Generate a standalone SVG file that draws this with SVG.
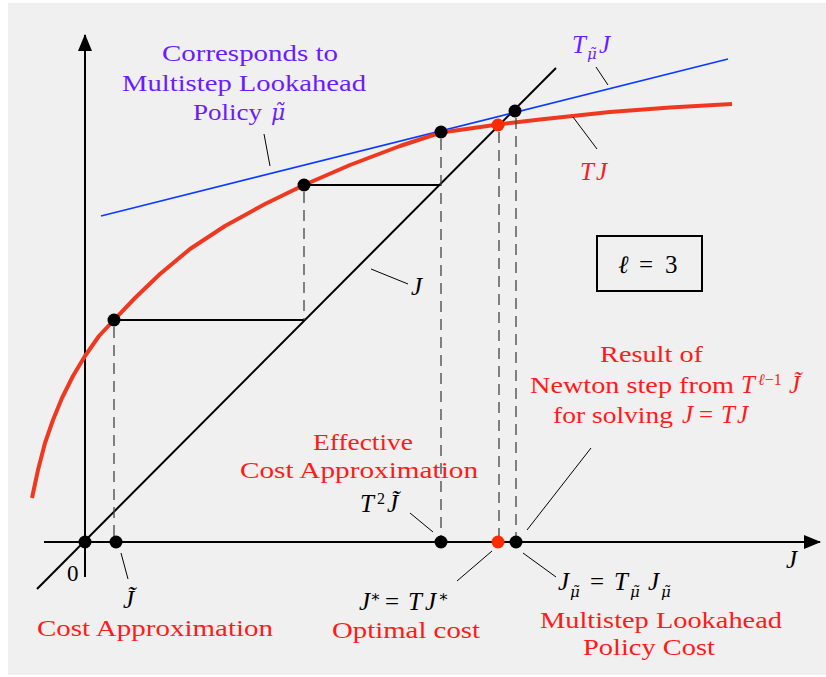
<svg xmlns="http://www.w3.org/2000/svg" width="826" height="677" viewBox="0 0 826 677">
<defs>
<style>
.bg{fill:#f0f0f0}
.ax{stroke:#000;stroke-width:2;fill:none}
.thin{stroke:#000;stroke-width:1;fill:none}
.dash{stroke:#444;stroke-width:1.3;stroke-dasharray:11 7;fill:none}
.t{font-family:"Liberation Serif","DejaVu Serif",serif;font-size:23px}
.m{font-family:"Liberation Serif","DejaVu Serif",serif;font-size:25px;font-style:italic}
.s{font-family:"Liberation Serif","DejaVu Serif",serif;font-size:16px;font-style:italic}
.mu{font-family:"DejaVu Serif",serif;font-style:italic}
.up{font-style:normal}
.red{fill:#ff1a1a}
.pur{fill:#6a1cff}
.blk{fill:#000}
.dot{fill:#000}
.rdot{fill:#ff2a00}
</style>
<marker id="arr" viewBox="0 0 17 14" refX="16" refY="7" markerWidth="17" markerHeight="14" markerUnits="userSpaceOnUse" orient="auto">
<path d="M0,0 L17,7 L0,14 Z" fill="#000"/>
</marker>
</defs>
<rect class="bg" x="8" y="3" width="818" height="672"/>

<g id="axes">
<line class="ax" x1="44" y1="542" x2="820" y2="542" marker-end="url(#arr)"/>
<line class="ax" x1="85" y1="577" x2="85" y2="35" marker-end="url(#arr)"/>
<line class="ax" x1="37" y1="589" x2="556" y2="68"/>
</g>

<g id="curves">
<line x1="101" y1="216" x2="728" y2="59" stroke="#0a3cff" stroke-width="1.8"/>
<polyline points="32,498 38,470 45,443 53,420 62,398 73,376 85,356 99,336 114,320 135,298 160,274 190,249 225,226 265,204 304,185 350,165 400,146 441,132.5 470,128.5 498,124.5 540,119.5 610,112 670,107.5 732,104" fill="none" stroke="#ef3820" stroke-width="4" stroke-linejoin="round"/>
</g>

<g id="connectors">
<line class="ax" x1="114" y1="320" x2="304" y2="320" style="stroke-width:1.8"/>
<line class="ax" x1="304" y1="185" x2="441" y2="185" style="stroke-width:1.8"/>
<line class="dash" x1="114" y1="327" x2="114" y2="542"/>
<line class="dash" x1="304" y1="192" x2="304" y2="320"/>
<line class="dash" x1="441" y1="139" x2="441" y2="542"/>
<line class="dash" x1="499" y1="132" x2="499" y2="542"/>
<line class="dash" x1="516" y1="118" x2="516" y2="542"/>
<line class="thin" x1="264" y1="134" x2="270" y2="166"/>
<line class="thin" x1="596" y1="67" x2="608" y2="85"/>
<line class="thin" x1="573" y1="117" x2="597" y2="149"/>
<line class="thin" x1="371" y1="269" x2="408" y2="284"/>
<line class="thin" x1="591" y1="448" x2="527" y2="530"/>
<line class="thin" x1="523" y1="553" x2="556" y2="577"/>
<line class="thin" x1="410" y1="513" x2="433" y2="532"/>
<line class="thin" x1="457" y1="581" x2="492" y2="551"/>
<line class="thin" x1="121" y1="553" x2="128" y2="579"/>
</g>

<g id="points">
<circle class="dot" cx="85" cy="542" r="6.5"/>
<circle class="dot" cx="116" cy="542" r="6.5"/>
<circle class="dot" cx="114" cy="320" r="6.5"/>
<circle class="dot" cx="304" cy="185" r="6.5"/>
<circle class="dot" cx="441" cy="132" r="6.5"/>
<circle class="rdot" cx="498" cy="125" r="6.5"/>
<circle class="dot" cx="515" cy="111" r="6.5"/>
<circle class="dot" cx="441" cy="542" r="6.5"/>
<circle class="rdot" cx="498" cy="542" r="6.5"/>
<circle class="dot" cx="516" cy="542" r="6.5"/>
</g>

<g id="box-ell">
<rect x="597" y="236" width="105" height="55" fill="none" stroke="#000" stroke-width="2"/>
<text class="m blk" x="618" y="273">ℓ<tspan class="up" x="639">=</tspan><tspan class="up" x="665">3</tspan></text>
</g>

<g id="label-policy">
<text class="t pur" x="162" y="61" textLength="176" lengthAdjust="spacingAndGlyphs">Corresponds to</text>
<text class="t pur" x="122" y="91" textLength="244" lengthAdjust="spacingAndGlyphs">Multistep Lookahead</text>
<text class="t pur" x="193" y="120" textLength="69" lengthAdjust="spacingAndGlyphs">Policy</text>
<text class="mu pur" x="271" y="120" font-size="22">μ̃</text>
</g>

<g id="label-tmu">
<text class="m pur" x="572" y="53">T<tspan class="mu" x="587" dy="6" font-size="15">μ̃</tspan><tspan x="599" dy="-6">J</tspan></text>
</g>
<g id="label-tj">
<text class="m red" x="580" y="180">T<tspan x="596">J</tspan></text>
</g>
<g id="label-j-diag">
<text class="m blk" x="411" y="295">J</text>
</g>
<g id="label-j-axis">
<text class="m blk" x="786" y="568">J</text>
</g>
<g id="label-zero">
<text class="t blk" x="67" y="581">0</text>
</g>

<g id="label-newton">
<text class="t red" x="600" y="362" textLength="103" lengthAdjust="spacingAndGlyphs">Result of</text>
<text class="t red" x="530" y="393" textLength="204" lengthAdjust="spacingAndGlyphs">Newton step from</text>
<text class="m red" x="741" y="393">T<tspan class="s" x="758" dy="-8">ℓ</tspan><tspan class="s up">−1</tspan><tspan x="789" dy="8">J̃</tspan></text>
<text class="t red" x="553" y="423" textLength="120" lengthAdjust="spacingAndGlyphs">for solving</text>
<text class="m red" x="682" y="423">J<tspan class="up" x="699">=</tspan><tspan x="721">T</tspan><tspan x="737">J</tspan></text>
</g>

<g id="label-effective">
<text class="t red" x="313" y="450" textLength="100" lengthAdjust="spacingAndGlyphs">Effective</text>
<text class="t red" x="240" y="478" textLength="238" lengthAdjust="spacingAndGlyphs">Cost Approximation</text>
<text class="m blk" x="360" y="512">T<tspan class="s up" x="377" dy="-8">2</tspan><tspan x="387" dy="8">J̃</tspan></text>
</g>

<g id="label-optimal">
<text class="m blk" x="359" y="610">J<tspan class="s up" x="370" dy="-8">∗</tspan><tspan class="up" x="385" dy="8">=</tspan><tspan x="408">T</tspan><tspan x="425">J</tspan><tspan class="s up" x="438" dy="-8">∗</tspan></text>
<text class="t red" x="332" y="638" textLength="148" lengthAdjust="spacingAndGlyphs">Optimal cost</text>
</g>

<g id="label-cost-approx">
<text class="m blk" x="123" y="608">J̃</text>
<text class="t red" x="37" y="636" textLength="236" lengthAdjust="spacingAndGlyphs">Cost Approximation</text>
</g>

<g id="label-policy-cost">
<text class="m blk" x="558" y="590">J<tspan class="mu" x="570" dy="7" font-size="15">μ̃</tspan><tspan class="up" x="590" dy="-7">=</tspan><tspan x="614">T</tspan><tspan class="mu" x="630" dy="7" font-size="15">μ̃</tspan><tspan x="648" dy="-7">J</tspan><tspan class="mu" x="661" dy="7" font-size="15">μ̃</tspan></text>
<text class="t red" x="540" y="628" textLength="242" lengthAdjust="spacingAndGlyphs">Multistep Lookahead</text>
<text class="t red" x="583" y="655" textLength="132" lengthAdjust="spacingAndGlyphs">Policy Cost</text>
</g>
</svg>
